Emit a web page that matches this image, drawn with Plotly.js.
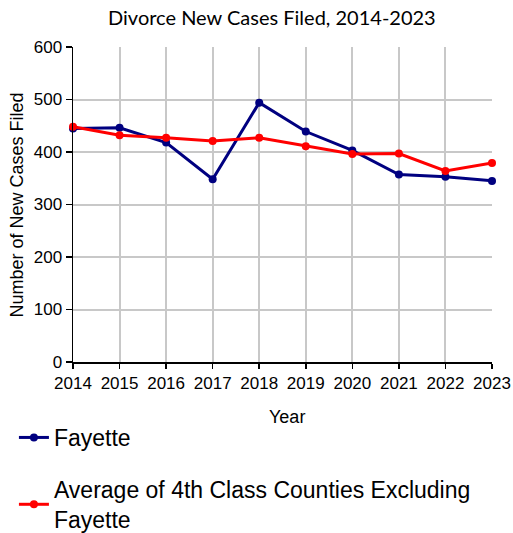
<!DOCTYPE html>
<html>
<head>
<meta charset="utf-8">
<script src="https://cdn.plot.ly/plotly-3.0.1.min.js"></script>
<style>html,body{margin:0;padding:0;background:#fff;}#chart{width:513px;height:533px;}</style>
</head>
<body>
<div id="chart"></div>
<script>
const years = [2014, 2015, 2016, 2017, 2018, 2019, 2020, 2021, 2022, 2023];
const fayette = [445, 446, 418, 348, 494, 439, 403, 357, 353, 345];
const average4th = [448, 432, 427, 421, 427, 411, 396, 397, 364, 379];
const yTicks = [0, 100, 200, 300, 400, 500, 600];

const traces = [
  {
    x: years, y: fayette, name: 'Fayette', type: 'scatter', mode: 'lines+markers',
    line: {color: '#000080', width: 3}, marker: {color: '#000080', size: 8},
    cliponaxis: false, legendgroup: 'a'
  },
  {
    x: years, y: average4th, name: 'Average of 4th Class Counties Excluding<br>Fayette', type: 'scatter', mode: 'lines+markers',
    line: {color: '#ff0000', width: 3}, marker: {color: '#ff0000', size: 8},
    cliponaxis: false, legendgroup: 'b'
  }
];

const layout = {
  width: 513, height: 533,
  margin: {l: 73, r: 21, t: 47, b: 171, autoexpand: false},
  paper_bgcolor: '#fff', plot_bgcolor: '#fff',
  font: {family: 'Liberation Sans, Arial, sans-serif', size: 17, color: '#000'},
  title: {text: 'Divorce New Cases Filed, 2014-2023', font: {family: 'Lato, sans-serif', size: 20, color: '#000'},
          x: 0.53, xanchor: 'center', y: 0.967, yanchor: 'middle'},
  xaxis: {
    range: [2014, 2023], tickvals: years, ticktext: years.map(String),
    showgrid: true, gridcolor: '#c8c8c8', gridwidth: 2,
    showline: true, linecolor: '#000', linewidth: 1.5,
    ticks: 'outside', ticklen: 5, tickcolor: '#000', tickwidth: 1.5,
    zeroline: false, fixedrange: true, automargin: false
  },
  yaxis: {
    range: [0, 600], tickvals: yTicks,
    showgrid: true, gridcolor: '#c8c8c8', gridwidth: 2,
    showline: true, linecolor: '#000', linewidth: 1.5,
    ticks: 'outside', ticklen: 6, tickcolor: '#000', tickwidth: 1.5,
    zeroline: false, fixedrange: true, automargin: false
  },
  annotations: [
    {text: 'Year', xref: 'paper', yref: 'paper', x: 0.511, y: -0.1746, xanchor: 'center', yanchor: 'middle',
     showarrow: false, font: {size: 18}},
    {text: 'Number of New Cases Filed', xref: 'paper', yref: 'paper', x: -0.1337, y: 0.5, xanchor: 'center', yanchor: 'middle',
     textangle: -90, showarrow: false, font: {size: 18}}
  ],
  showlegend: true,
  legend: {
    orientation: 'v', x: -0.141, xanchor: 'left', y: -0.1714, yanchor: 'top',
    font: {size: 23, color: '#000'}, tracegroupgap: 19, traceorder: 'grouped',
    bgcolor: 'rgba(0,0,0,0)'
  }
};

Plotly.newPlot('chart', traces, layout, {displayModeBar: false, staticPlot: true});
</script>
</body>
</html>
